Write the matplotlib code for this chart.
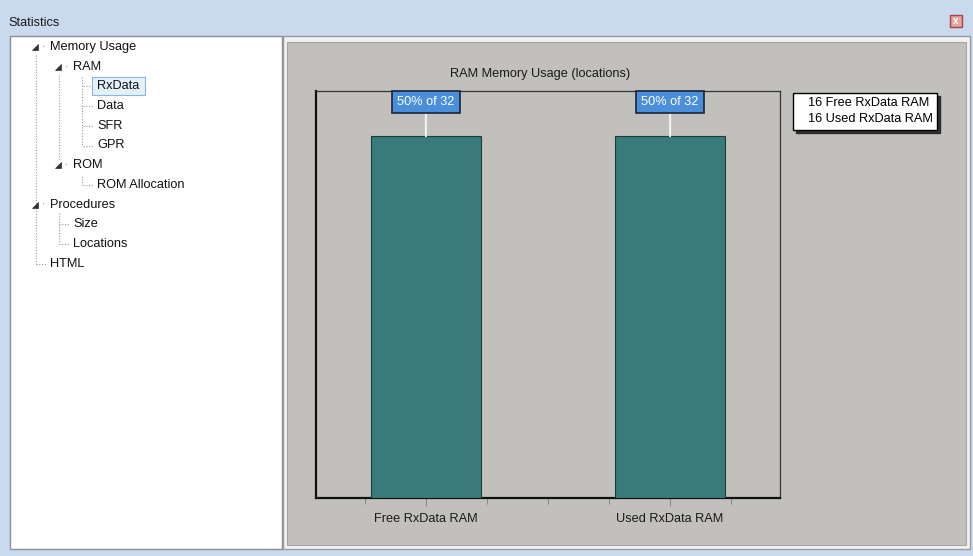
import matplotlib
matplotlib.use("Agg")
import matplotlib.pyplot as plt
from matplotlib.patches import Rectangle, Polygon
from matplotlib.lines import Line2D

# ---- data ----
categories = ["Free RxData RAM", "Used RxData RAM"]
values = [16, 16]
total = 32
chart_title = "RAM Memory Usage (locations)"
window_title = "Statistics"
tree_items = [  # (label, level, expandable)
    ("Memory Usage", 0, True),
    ("RAM", 1, True),
    ("RxData", 2, False),
    ("Data", 2, False),
    ("SFR", 2, False),
    ("GPR", 2, False),
    ("ROM", 1, True),
    ("ROM Allocation", 2, False),
    ("Procedures", 0, True),
    ("Size", 1, False),
    ("Locations", 1, False),
    ("HTML", 0, False),
]
selected_item = "RxData"

W, H = 973, 556
FONT = ["Liberation Sans", "DejaVu Sans"]
plt.rcParams["font.family"] = FONT
FS = 9.2

fig = plt.figure(figsize=(W / 100, H / 100), dpi=100)
fig.patch.set_facecolor("#c9d9ee")

# background (pixel-space) axes for window chrome
bg = fig.add_axes([0, 0, 1, 1])
bg.set_xlim(0, W)
bg.set_ylim(H, 0)
bg.axis("off")

def rect(x0, y0, x1, y1, fc, ec="none", lw=1.0, z=1):
    bg.add_patch(Rectangle((x0, y0), x1 - x0, y1 - y0, facecolor=fc,
                           edgecolor=ec, linewidth=lw, zorder=z))

# title bar
bg.text(8, 23, window_title, fontsize=FS, va="center", ha="left", color="#1a1a1a")
rect(950, 15, 962, 27, "#e3a59d", "#a8463d", 1.0, 3)
bg.text(956, 21.3, "x", fontsize=7, fontweight="bold", color="white", ha="center",
        va="center", zorder=4)

# tree panel
rect(10, 36, 282, 549, "white", "#8a8e96", 1.0, 1)
# chart panel
rect(283, 36, 970, 549, "#f2f2f2", "#9a9a9a", 1.0, 1)
rect(287, 42, 966, 545, "#c2c0bc", "#a5a5a5", 0.8, 2)

# tree
x_level = {0: 50, 1: 73, 2: 97}
y0, dy = 47, 19.7
ys = [y0 + i * dy for i in range(len(tree_items))]
dot = dict(color="#9a9a9a", lw=0.8, ls=(0, (1, 1.5)), zorder=3)
for (label, lvl, exp), y in zip(tree_items, ys):
    x = x_level[lvl]
    if exp:
        tx = x - 15
        bg.add_patch(Polygon([[tx - 3, y + 3], [tx + 3, y + 3], [tx + 3, y - 3]],
                             closed=True, facecolor="#333333", edgecolor="#333333",
                             lw=0.5, zorder=4))
        bg.text(x - 7, y, "·", fontsize=7, ha="center", va="center", color="#555555")
    else:
        bg.add_line(Line2D([x - 14, x - 3], [y, y], **dot))
    if label == selected_item:
        bg.add_patch(Rectangle((x - 5, y - 9), 53, 18, facecolor="#e3f1fb",
                               edgecolor="#8cb5e2", lw=0.8, zorder=3))
    bg.text(x, y, label, fontsize=FS, ha="left", va="center", color="#111111", zorder=5)

# vertical connector lines
bg.add_line(Line2D([36, 36], [ys[0] + 8, ys[11]], **dot))
bg.add_line(Line2D([59, 59], [ys[1] + 8, ys[6] - 4], **dot))
bg.add_line(Line2D([82, 82], [ys[2] - 9, ys[5]], **dot))
bg.add_line(Line2D([82, 82], [ys[7] - 9, ys[7]], **dot))
bg.add_line(Line2D([59, 59], [ys[8] + 8, ys[10]], **dot))

# ---- chart ----
left, right, top, bottom = 316, 780, 91, 498
ax = fig.add_axes([left / W, (H - bottom) / H, (right - left) / W, (bottom - top) / H])
ax.set_facecolor("#c2c0bc")
ax.set_zorder(5)
xs = list(range(len(categories)))
ax.bar(xs, values, width=0.45, color="#387b7a", edgecolor="#1e3c3a", linewidth=0.8, zorder=3)
ax.set_xlim(-0.45, 1.45)
ax.set_ylim(0, 18)
ax.set_yticks([])
ax.set_xticks(xs)
ax.set_xticklabels(categories, fontsize=FS, color="#1a1a1a")
ax.set_xticks([-0.25, 0.25, 0.5, 0.75, 1.25], minor=True)
ax.tick_params(axis="x", which="major", length=6, width=0.8, color="#8a8a8a", pad=5)
ax.tick_params(axis="x", which="minor", length=4, width=0.8, color="#8a8a8a")
for s in ["left", "bottom"]:
    ax.spines[s].set_linewidth(1.6)
    ax.spines[s].set_color("#111111")
for s in ["top", "right"]:
    ax.spines[s].set_linewidth(0.9)
    ax.spines[s].set_color("#333333")

ax.text(0.483, (bottom - 74) / (bottom - top), chart_title, transform=ax.transAxes,
        ha="center", va="center", fontsize=FS, color="#1a1a1a")

for x, v in zip(xs, values):
    ax.annotate(f"{round(100 * v / total)}% of {total}", xy=(x, v), xytext=(x, 17.5),
                textcoords="data", ha="center", va="center", fontsize=FS, color="white",
                bbox=dict(boxstyle="square,pad=0.4", facecolor="#4a8fdb", edgecolor="#1c2433", lw=1.2),
                arrowprops=dict(arrowstyle="-", color="#f2f2f2", lw=1.5, shrinkA=0, shrinkB=0),
                zorder=6)

handles = [Rectangle((0, 0), 0, 0, visible=False) for _ in categories]
labels = [f"{v} {c}" for v, c in zip(values, categories)]
leg = fig.legend(handles, labels, loc="upper left", bbox_to_anchor=(793 / W, 1 - 93 / H),
                 bbox_transform=fig.transFigure, borderaxespad=0, handlelength=0.6,
                 handletextpad=0.2, fontsize=FS, fancybox=False, framealpha=1,
                 edgecolor="black", borderpad=0.35, labelspacing=0.3,
                 shadow={"color": "#222222", "alpha": 0.9, "ox": 2, "oy": -2})
leg.get_frame().set_linewidth(1.0)
leg.set_zorder(10)

fig.savefig("out.png", dpi=100, facecolor=fig.get_facecolor())
